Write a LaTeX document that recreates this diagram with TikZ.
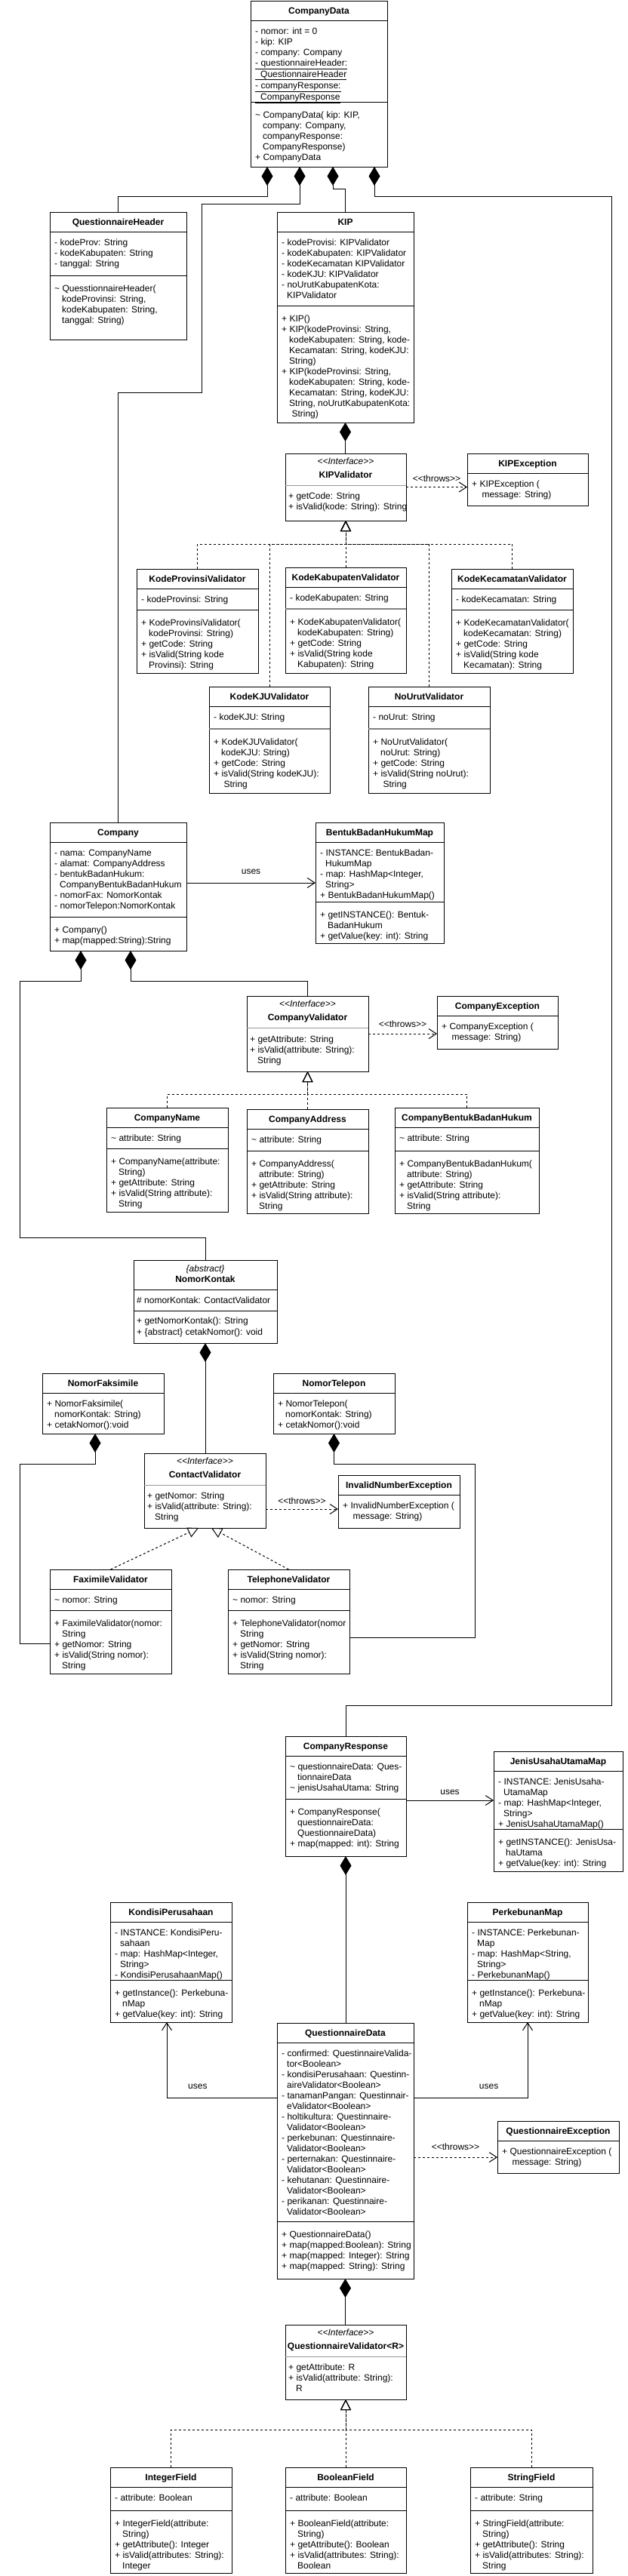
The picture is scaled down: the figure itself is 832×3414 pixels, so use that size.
\documentclass[tikz,border=0pt]{standalone}
\usepackage{fontspec}
\setmainfont{Liberation Sans}
\usetikzlibrary{arrows.meta}
\newcommand{\umlfont}{\fontsize{12pt}{14pt}\selectfont}
\newcommand{\tld}{\textasciitilde\ }
\newcommand{\cont}{\hspace*{10pt}}
\newcommand{\contd}{\hspace*{7pt}}
\newcommand{\stype}[1]{<\kern0pt<#1>\kern0pt>}
\tikzset{
    umlbox/.style={draw,fill=white,line width=1pt,anchor=north west,inner sep=0pt,outer sep=0pt},
    umltitle/.style={anchor=base,inner sep=0pt,font=\umlfont\bfseries},
    umlstereo/.style={anchor=base,inner sep=0pt,font=\umlfont},
    umltext/.style={anchor=north west,align=left,inner sep=0pt,font=\umlfont},
    umlline/.style={line width=1pt},
    greyline/.style={line width=1pt,black!40},
    thickgrey/.style={line width=2.5pt,black!50},
    compose/.style={{Diamond[length=25pt,width=15pt]}-,line width=1pt},
    useline/.style={-{Straight Barb[length=10pt,width=13pt]},line width=1pt},
    throwline/.style={-{Straight Barb[length=10pt,width=13pt]},line width=1pt,dash pattern=on 3pt off 3pt},
    realize/.style={-{Triangle[open,length=14pt,width=14pt]},line width=1pt,dash pattern=on 3pt off 3pt},
    edgelabel/.style={inner sep=0pt,font=\umlfont}
}
\newcommand{\classbox}[6]{%
    \node[umlbox,minimum width=#4pt,minimum height=#5pt] (#1) at (#2,#3) {};
    \node[umltitle] (#1-name) at ([yshift=-17.5pt]#1.north) {#6};
    \draw[umlline] ([yshift=-26pt]#1.north west) -- ([yshift=-26pt]#1.north east);}
\newcommand{\ifacebox}[6]{%
    \node[umlbox,minimum width=#4pt,minimum height=#5pt] (#1) at (#2,#3) {};
    \node[umlstereo] (#1-stereo) at ([yshift=-14pt]#1.north) {\textit{\stype{Interface}}};
    \node[umltitle] (#1-name) at ([yshift=-32pt]#1.north) {#6};
    \draw[greyline] ([yshift=-42pt]#1.north west) -- ([yshift=-42pt]#1.north east);}
\newcommand{\classsep}[3][umlline]{%
    \draw[#1] ([yshift=-#3pt]#2.north west) -- ([yshift=-#3pt]#2.north east);}
\newcommand{\members}[5][6]{%
    \node[umltext] (#2-#3) at ([xshift=#1pt,yshift=-#4pt]#2.north west) {\strut #5};}

\begin{document}
\begin{tikzpicture}[x=1pt,y=-1pt]
    \fill[white] (0,0) rectangle (832,3414);
    \useasboundingbox (0,0) rectangle (832,3414);

    \classbox{cdata}{332}{1}{181}{220}{CompanyData}
    \members{cdata}{attr}{34}{- nomor: int = 0\\- kip: KIP\\- company: Company\\\underline{- questionnaireHeader:}\\[1pt]\underline{\contd QuestionnaireHeader}\\[1pt]\underline{- companyResponse:}\\[1pt]\underline{\contd CompanyResponse}}
    \classsep{cdata}{134}
    \members{cdata}{ops}{145.5}{\tld CompanyData( kip: KIP,\\\cont company: Company,\\\cont companyResponse:\\\cont CompanyResponse)\\+ CompanyData}

    \classbox{qh}{66}{281}{181}{169}{QuestionnaireHeader}
    \members{qh}{attr}{34}{- kodeProv: String\\- kodeKabupaten: String\\- tanggal: String}
    \classsep{qh}{84}
    \members{qh}{ops}{95.5}{\tld QuesstionnaireHeader(\\\cont kodeProvinsi: String,\\\cont kodeKabupaten: String,\\\cont tanggal: String)}

    \classbox{kip}{367}{281}{181}{279}{KIP}
    \members{kip}{attr}{34}{- kodeProvisi: KIPValidator\\- kodeKabupaten: KIPValidator\\- kodeKecamatan KIPValidator\\- kodeKJU: KIPValidator\\- noUrutKabupatenKota:\\\contd KIPValidator}
    \classsep{kip}{124}
    \members{kip}{ops}{135.5}{+ KIP()\\+ KIP(kodeProvinsi: String,\\\cont kodeKabupaten: String, kode-\\\cont Kecamatan: String, kodeKJU:\\\cont String)\\+ KIP(kodeProvinsi: String,\\\cont kodeKabupaten: String, kode-\\\cont Kecamatan: String, kodeKJU:\\\cont String, noUrutKabupatenKota:\\\cont\ String)}

    \ifacebox{kipv}{378}{601}{160}{89}{KIPValidator}
    \members[4]{kipv}{ops}{50.5}{+ getCode: String\\+ isValid(kode: String): String}

    \classbox{kipex}{619}{601}{160}{69}{KIPException}
    \members{kipex}{ops}{34.5}{+ KIPException (\\\cont\ message: String)}

    \classbox{kpv}{181}{754}{161}{138}{KodeProvinsiValidator}
    \members{kpv}{attr}{34}{- kodeProvinsi: String}
    \classsep{kpv}{54}
    \members{kpv}{ops}{65.5}{+ KodeProvinsiValidator(\\\cont kodeProvinsi: String)\\+ getCode: String\\+ isValid(String kode\\\cont Provinsi): String}

    \classbox{kkv}{378}{752}{160}{140}{KodeKabupatenValidator}
    \members{kkv}{attr}{34}{- kodeKabupaten: String}
    \classsep[thickgrey]{kkv}{55}
    \members{kkv}{ops}{66.5}{+ KodeKabupatenValidator(\\\cont kodeKabupaten: String)\\+ getCode: String\\+ isValid(String kode\\\cont Kabupaten): String}

    \classbox{kcv}{598}{754}{161}{138}{KodeKecamatanValidator}
    \members{kcv}{attr}{34}{- kodeKecamatan: String}
    \classsep{kcv}{54}
    \members{kcv}{ops}{65.5}{+ KodeKecamatanValidator(\\\cont kodeKecamatan: String)\\+ getCode: String\\+ isValid(String kode\\\cont Kecamatan): String}

    \classbox{kjuv}{277}{910}{160}{141}{KodeKJUValidator}
    \members{kjuv}{attr}{34}{- kodeKJU: String}
    \classsep[thickgrey]{kjuv}{56}
    \members{kjuv}{ops}{67.5}{+ KodeKJUValidator(\\\cont kodeKJU: String)\\+ getCode: String\\+ isValid(String kodeKJU):\\\cont\ String}

    \classbox{nuv}{488}{910}{161}{141}{NoUrutValidator}
    \members{nuv}{attr}{34}{- noUrut: String}
    \classsep[thickgrey]{nuv}{56}
    \members{nuv}{ops}{67.5}{+ NoUrutValidator(\\\cont noUrut: String)\\+ getCode: String\\+ isValid(String noUrut):\\\cont\ String}

    \classbox{company}{66}{1090}{181}{170}{Company}
    \members{company}{attr}{34}{- nama: CompanyName\\- alamat: CompanyAddress\\- bentukBadanHukum:\\\contd CompanyBentukBadanHukum\\- nomorFax: NomorKontak\\- nomorTelepon:NomorKontak}
    \classsep{company}{125}
    \members{company}{ops}{136.5}{+ Company()\\+ map(mapped:String):String}

    \classbox{bbhm}{418}{1090}{170}{160}{BentukBadanHukumMap}
    \members{bbhm}{attr}{34}{- INSTANCE: BentukBadan-\\\contd HukumMap\\- map: HashMap<Integer,\\\contd String>\\+ BentukBadanHukumMap()}
    \classsep{bbhm}{105}
    \members{bbhm}{ops}{116.5}{+ getINSTANCE(): Bentuk-\\\cont BadanHukum\\+ getValue(key: int): String}

    \ifacebox{cval}{327}{1320}{161}{100}{CompanyValidator}
    \members[4]{cval}{ops}{51.5}{+ getAttribute: String\\+ isValid(attribute: String):\\\cont String}

    \classbox{cexc}{579}{1320}{160}{70}{CompanyException}
    \members{cexc}{ops}{34.5}{+ CompanyException (\\\cont\ message: String)}

    \classbox{cname}{141}{1468}{161}{138}{CompanyName}
    \members{cname}{attr}{34}{\tld attribute: String}
    \classsep{cname}{54}
    \members{cname}{ops}{65.5}{+ CompanyName(attribute:\\\cont String)\\+ getAttribute: String\\+ isValid(String attribute):\\\cont String}

    \classbox{caddr}{327}{1470}{161}{138}{CompanyAddress}
    \members{caddr}{attr}{34}{\tld attribute: String}
    \classsep{caddr}{55}
    \members{caddr}{ops}{66.5}{+ CompanyAddress(\\\cont attribute: String)\\+ getAttribute: String\\+ isValid(String attribute):\\\cont String}

    \classbox{cbbh}{523}{1468}{191}{140}{CompanyBentukBadanHukum}
    \members{cbbh}{attr}{34}{\tld attribute: String}
    \classsep{cbbh}{57}
    \members{cbbh}{ops}{68.5}{+ CompanyBentukBadanHukum(\\\cont attribute: String)\\+ getAttribute: String\\+ isValid(String attribute):\\\cont String}

    \node[umlbox,minimum width=190pt,minimum height=110pt] (nk) at (177,1670) {};
    \node[umlstereo] (nk-stereo) at ([yshift=-15pt]nk.north) {\textit{\{abstract\}}};
    \node[umltitle] (nk-name) at ([yshift=-29pt]nk.north) {NomorKontak};
    \classsep{nk}{39}
    \members[4]{nk}{attr}{47.5}{\# nomorKontak: ContactValidator}
    \classsep{nk}{67}
    \members[4]{nk}{ops}{74.5}{+ getNomorKontak(): String\\[1pt]+ \{abstract\} cetakNomor(): void}

    \classbox{nf}{56}{1820}{161}{80}{NomorFaksimile}
    \members{nf}{ops}{34.5}{+ NomorFaksimile(\\\cont nomorKontak: String)\\+ cetakNomor():void}

    \classbox{nt}{362}{1820}{161}{80}{NomorTelepon}
    \members{nt}{ops}{34.5}{+ NomorTelepon(\\\cont nomorKontak: String)\\+ cetakNomor():void}

    \ifacebox{cv}{191}{1926}{161}{99}{ContactValidator}
    \members[4]{cv}{ops}{50.5}{+ getNomor: String\\+ isValid(attribute: String):\\\cont String}

    \classbox{inexc}{448}{1955}{161}{70}{InvalidNumberException}
    \members{inexc}{ops}{34.5}{+ InvalidNumberException (\\\cont\ message: String)}

    \classbox{faxv}{66}{2080}{161}{138}{FaximileValidator}
    \members{faxv}{attr}{34}{\tld nomor: String}
    \classsep{faxv}{54}
    \members{faxv}{ops}{65.5}{+ FaximileValidator(nomor:\\\cont String\\+ getNomor: String\\+ isValid(String nomor):\\\cont String}

    \classbox{telv}{302}{2080}{161}{138}{TelephoneValidator}
    \members{telv}{attr}{34}{\tld nomor: String}
    \classsep{telv}{54}
    \members{telv}{ops}{65.5}{+ TelephoneValidator(nomor\\\cont String\\+ getNomor: String\\+ isValid(String nomor):\\\cont String}

    \classbox{cresp}{378}{2301}{160}{159}{CompanyResponse}
    \members{cresp}{attr}{34}{\tld questionnaireData: Ques-\\\cont tionnaireData\\\tld jenisUsahaUtama: String}
    \classsep{cresp}{83}
    \members{cresp}{ops}{94.5}{+ CompanyResponse(\\\cont questionnaireData:\\\cont QuestionnaireData)\\+ map(mapped: int): String}

    \classbox{juum}{654}{2321}{171}{159}{JenisUsahaUtamaMap}
    \members{juum}{attr}{34}{- INSTANCE: JenisUsaha-\\\contd UtamaMap\\- map: HashMap<Integer,\\\contd String>\\+ JenisUsahaUtamaMap()}
    \classsep{juum}{103}
    \members{juum}{ops}{114.5}{+ getINSTANCE(): JenisUsa-\\\cont haUtama\\+ getValue(key: int): String}

    \classbox{kondisi}{146}{2521}{161}{159}{KondisiPerusahaan}
    \members{kondisi}{attr}{34}{- INSTANCE: KondisiPeru-\\\contd sahaan\\- map: HashMap<Integer,\\\contd String>\\- KondisiPerusahaanMap()}
    \classsep{kondisi}{103}
    \members{kondisi}{ops}{114.5}{+ getInstance(): Perkebuna-\\\cont nMap\\+ getValue(key: int): String}

    \classbox{perk}{619}{2521}{160}{159}{PerkebunanMap}
    \members{perk}{attr}{34}{- INSTANCE: Perkebunan-\\\contd Map\\- map: HashMap<String,\\\contd String>\\- PerkebunanMap()}
    \classsep{perk}{103}
    \members{perk}{ops}{114.5}{+ getInstance(): Perkebuna-\\\cont nMap\\+ getValue(key: int): String}

    \classbox{qdata}{367}{2681}{181}{339}{QuestionnaireData}
    \members{qdata}{attr}{34}{- confirmed: QuestinnaireValida-\\\contd tor<Boolean>\\- kondisiPerusahaan: Questinn-\\\contd aireValidator<Boolean>\\- tanamanPangan: Questinnair-\\\contd eValidator<Boolean>\\- holtikultura: Questinnaire-\\\contd Validator<Boolean>\\- perkebunan: Questinnaire-\\\contd Validator<Boolean>\\- perternakan: Questinnaire-\\\contd Validator<Boolean>\\- kehutanan: Questinnaire-\\\contd Validator<Boolean>\\- perikanan: Questinnaire-\\\contd Validator<Boolean>}
    \classsep{qdata}{263}
    \members{qdata}{ops}{274.5}{+ QuestionnaireData()\\+ map(mapped:Boolean): String\\+ map(mapped: Integer): String\\+ map(mapped: String): String}

    \classbox{qexc}{659}{2811}{161}{69}{QuestionnaireException}
    \members{qexc}{ops}{34.5}{+ QuestionnaireException (\\\cont\ message: String)}

    \ifacebox{qv}{378}{3081}{160}{99}{QuestionnaireValidator<R>}
    \members[4]{qv}{ops}{50.5}{+ getAttribute: R\\+ isValid(attribute: String):\\\cont R}

    \classbox{intf}{146}{3270}{161}{140}{IntegerField}
    \members{intf}{attr}{34}{- attribute: Boolean}
    \classsep{intf}{57}
    \members{intf}{ops}{68.5}{+ IntegerField(attribute:\\\cont String)\\+ getAttribute(): Integer\\+ isValid(attributes: String):\\\cont Integer}

    \classbox{boolf}{378}{3270}{160}{140}{BooleanField}
    \members{boolf}{attr}{34}{- attribute: Boolean}
    \classsep{boolf}{57}
    \members{boolf}{ops}{68.5}{+ BooleanField(attribute:\\\cont String)\\+ getAttribute(): Boolean\\+ isValid(attributes: String):\\\cont Boolean}

    \classbox{strf}{623}{3270}{162}{140}{StringField}
    \members{strf}{attr}{34}{- attribute: String}
    \classsep{strf}{57}
    \members{strf}{ops}{68.5}{+ StringField(attribute:\\\cont String)\\+ getAttribute(): String\\+ isValid(attributes: String):\\\cont String}

    \draw[compose] ([xshift=-68.5pt]cdata.south) -- ++(0,39) -| (qh.north);
    \draw[compose] ([xshift=-25.5pt]cdata.south) -- ++(0,49) -| (267,520) -| (company.north);
    \draw[compose] ([xshift=18.5pt]cdata.south) -- ++(0,29) -| (kip.north);
    \draw[compose] ([xshift=73.5pt]cdata.south) -- ++(0,39) -| (810,2260) -| (cresp.north);
    \draw[compose] (kip.south) -- (kip.south |- kipv.north);

    \coordinate (kipbar) at (458,721);
    \draw[realize] (kpv.north) |- (kipbar) -- (kipv.south);
    \draw[realize] (kjuv.north) |- (kipbar) -- (kipv.south);
    \draw[realize] (kkv.north) -- (kipv.south);
    \draw[realize] (nuv.north) |- (kipbar) -- (kipv.south);
    \draw[realize] (kcv.north) |- (kipbar) -- (kipv.south);
    \draw[throwline] (kipv.east) -- node[edgelabel,midway,yshift=11pt] (throws1) {\stype{throws}} (kipv.east -| kipex.west);

    \draw[useline] ([yshift=5pt]company.east) -- node[edgelabel,midway,yshift=15pt] (uses1) {uses} (bbhm.west);
    \draw[compose] ([xshift=-49.5pt]company.south) -- ++(0,40) -| (26,1640) -| (nk.north);
    \draw[compose] ([xshift=16.5pt]company.south) -- ++(0,40) -| (cval.north);
    \draw[throwline] (cval.east) -- node[edgelabel,midway,yshift=13pt] (throws2) {\stype{throws}} (cval.east -| cexc.west);

    \coordinate (compbar) at (407.5,1450);
    \draw[realize] (cname.north) |- (compbar) -- (cval.south);
    \draw[realize] (caddr.north) -- (cval.south);
    \draw[realize] (cbbh.north) |- (compbar) -- (cval.south);

    \draw[compose] (nk.south) -- (nk.south |- cv.north);
    \draw[compose] ([xshift=-10.5pt]nf.south) -- ++(0,40) -| (26,2178) -- ([yshift=-29pt]faxv.west);
    \draw[compose] (nt.south) -- ++(0,40) -| (629,2170) -- ([yshift=-21pt]telv.east);
    \draw[throwline] ([yshift=-24.5pt]cv.east) -- node[edgelabel,midway,yshift=11pt] (throws3) {\stype{throws}} ([yshift=-10pt]inexc.west);
    \draw[realize] (faxv.north) -- ([xshift=-8.5pt]cv.south);
    \draw[realize] (telv.north) -- ([xshift=8.5pt]cv.south);

    \draw[useline] ([yshift=-5.5pt]cresp.east) -- node[edgelabel,midway,yshift=11pt] (uses2) {uses} ([yshift=14.5pt]juum.west);
    \draw[compose] (cresp.south) -- (cresp.south |- qdata.north);
    \draw[useline] ([yshift=70.5pt]qdata.west) -| node[edgelabel,pos=0.36,yshift=15pt] (uses3) {uses} ([xshift=-5.5pt]kondisi.south);
    \draw[useline] ([yshift=70.5pt]qdata.east) -| node[edgelabel,pos=0.33,yshift=15pt] (uses4) {uses} (perk.south);
    \draw[throwline] ([yshift=-8.5pt]qdata.east) -- node[edgelabel,midway,yshift=14pt] (throws4) {\stype{throws}} ([yshift=-13.5pt]qexc.west);
    \draw[compose] (qdata.south) -- (qdata.south |- qv.north);

    \coordinate (qbar) at (458,3220);
    \draw[realize] (intf.north) |- (qbar) -- (qv.south);
    \draw[realize] (boolf.north) -- (qv.south);
    \draw[realize] (strf.north) |- (qbar) -- (qv.south);
\end{tikzpicture}
\end{document}
